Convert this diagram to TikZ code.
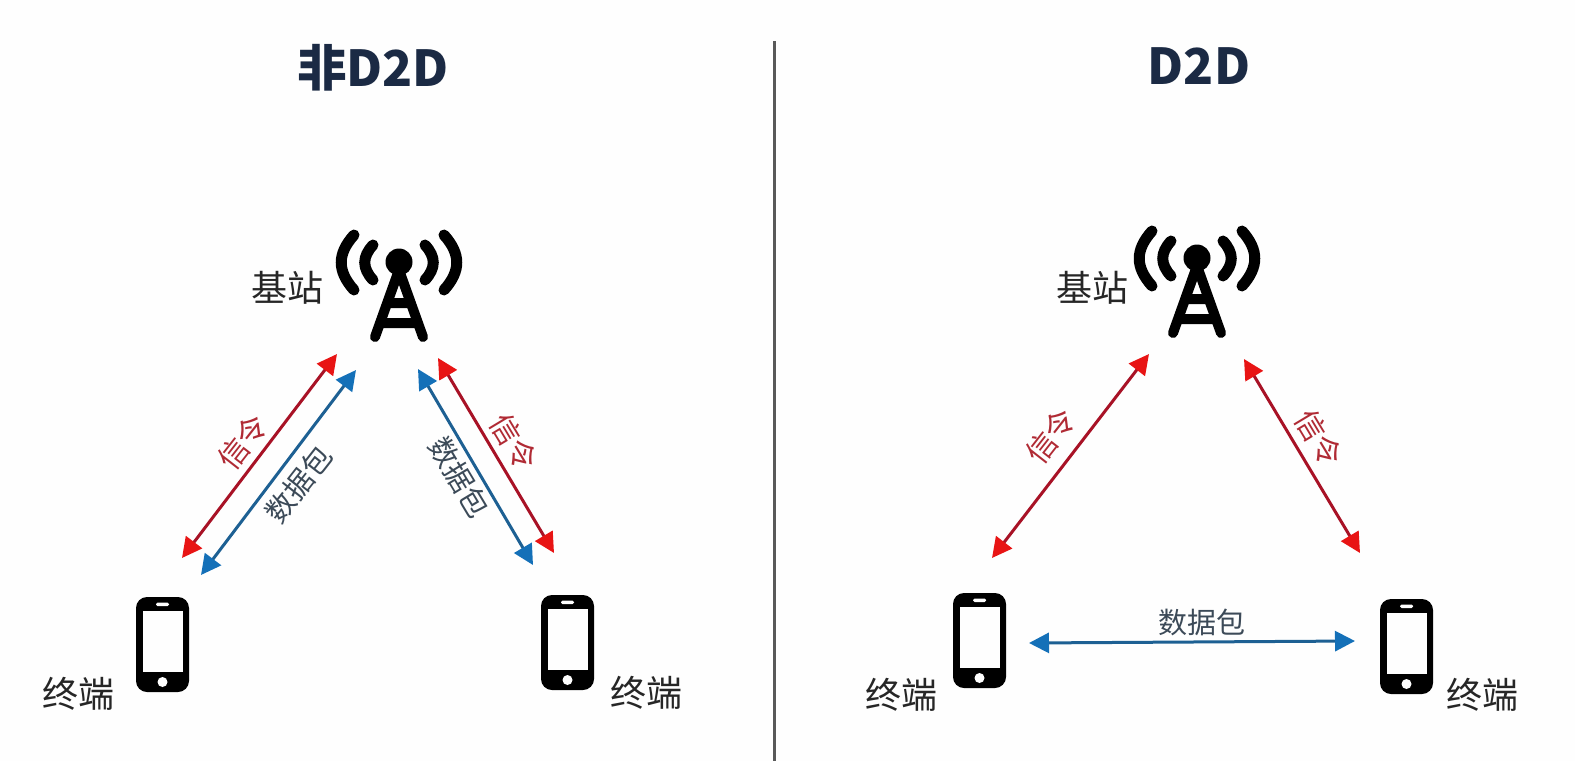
\documentclass[tikz,border=0pt]{standalone}
\usepackage{fontspec}
\setmainfont{Noto Sans CJK SC}
\usetikzlibrary{arrows.meta}
\definecolor{navy}{HTML}{1B2A44}
\definecolor{paper}{HTML}{FEFEFE}
\definecolor{redline}{HTML}{A81226}
\definecolor{redhead}{HTML}{E81414}
\definecolor{redtext}{HTML}{B02A34}
\definecolor{blueline}{HTML}{1D6093}
\definecolor{bluehead}{HTML}{1470B8}
\definecolor{slatetext}{HTML}{3C4A58}
\tikzset{
  x=1pt,y=-1pt,
  title/.style={font=\fontsize{49.5}{54}\selectfont\bfseries,text=navy,inner sep=0pt},
  lbl/.style={font=\fontsize{36}{40}\selectfont,text=black!85,inner sep=0pt},
  redlbl/.style={font=\fontsize{30}{34}\selectfont,text=redtext,inner sep=0pt},
  datalbl/.style={font=\fontsize{29}{33}\selectfont,text=slatetext,inner sep=0pt},
  redarrow/.style={draw=redline,line width=3pt,{Triangle[length=20pt,width=20pt,color=redhead]}-{Triangle[length=20pt,width=20pt,color=redhead]}},
  bluearrow/.style={draw=blueline,line width=3pt,{Triangle[length=20pt,width=20pt,color=bluehead]}-{Triangle[length=20pt,width=20pt,color=bluehead]}},
  pics/towericon/.style={code={
    \fill[black] (0,0) circle (13.5);
    \draw[black,line width=10pt,line cap=round]
      (0,8) -- (-24,75) (0,8) -- (24,75)
      (-10,41) -- (10,41) (-17,61) -- (17,61);
    \draw[black,line width=11pt,line cap=round]
      (-26,-17) .. controls (-37,-5) and (-37,6) .. (-26,18)
      (26,-17) .. controls (37,-5) and (37,6) .. (26,18)
      (-45,-27) .. controls (-62,-8) and (-62,9) .. (-45,28)
      (45,-27) .. controls (62,-8) and (62,9) .. (45,28);
  }},
  pics/phoneicon/.style={code={
    \fill[black,rounded corners=11pt] (0,0) rectangle (53,95);
    \fill[paper] (7,14) rectangle (47,75);
    \fill[paper,rounded corners=1.5pt] (20,5.5) rectangle (33,9);
    \fill[paper] (26.5,85) circle (5);
  }},
}
\begin{document}
\begin{tikzpicture}
\useasboundingbox (0,0) rectangle (1575,761);
\fill[fill=paper] (0,0) rectangle (1575,761);
% divider
\coordinate (divtop) at (774.5,41);
\coordinate (divbot) at (774.5,761);
\draw[black!65,line width=2.2pt] (divtop) -- (divbot);
% titles
\node[title] (t1) at (373,68) {非D2D};
\node[title] (t2) at (1199,66) {D2D};
% left panel icons
\pic at (399,262) {towericon};
\pic at (136,597) {phoneicon};
\pic at (541,595) {phoneicon};
% right panel icons
\pic at (1197,258) {towericon};
\pic at (953,593) {phoneicon};
\pic at (1380,599) {phoneicon};
% labels
\node[lbl] (bs1) at (287,288) {基站};
\node[lbl] (bs2) at (1092,288) {基站};
\node[lbl] (ue1) at (78,694) {终端};
\node[lbl] (ue2) at (646,693) {终端};
\node[lbl] (ue3) at (901,695) {终端};
\node[lbl] (ue4) at (1482,695) {终端};
% left arrows
\coordinate (a1t) at (337,354); \coordinate (a1b) at (182,558);
\coordinate (a2t) at (356,370); \coordinate (a2b) at (201,575);
\coordinate (a3t) at (418,369); \coordinate (a3b) at (533,565);
\coordinate (a4t) at (438,358); \coordinate (a4b) at (554,553);
\draw[redarrow] (a1t) -- (a1b);
\draw[bluearrow] (a2t) -- (a2b);
\draw[bluearrow] (a3t) -- (a3b);
\draw[redarrow] (a4t) -- (a4b);
% right arrows
\coordinate (b1t) at (1149,354); \coordinate (b1b) at (992,558);
\coordinate (b2t) at (1244,359); \coordinate (b2b) at (1360,553);
\coordinate (b3l) at (1029,643); \coordinate (b3r) at (1355,641);
\draw[redarrow] (b1t) -- (b1b);
\draw[redarrow] (b2t) -- (b2b);
\draw[bluearrow] (b3l) -- (b3r);
% arrow labels
\node[redlbl,rotate=52] (s1) at (243,442) {信令};
\node[datalbl,rotate=52] (d1) at (299,484) {数据包};
\node[datalbl,rotate=-59] (d2) at (459,477) {数据包};
\node[redlbl,rotate=-59] (s2) at (514,442) {信令};
\node[redlbl,rotate=52] (s3) at (1051,436) {信令};
\node[redlbl,rotate=-59] (s4) at (1319,438) {信令};
\node[datalbl] (d3) at (1202,622) {数据包};
\end{tikzpicture}
\end{document}
